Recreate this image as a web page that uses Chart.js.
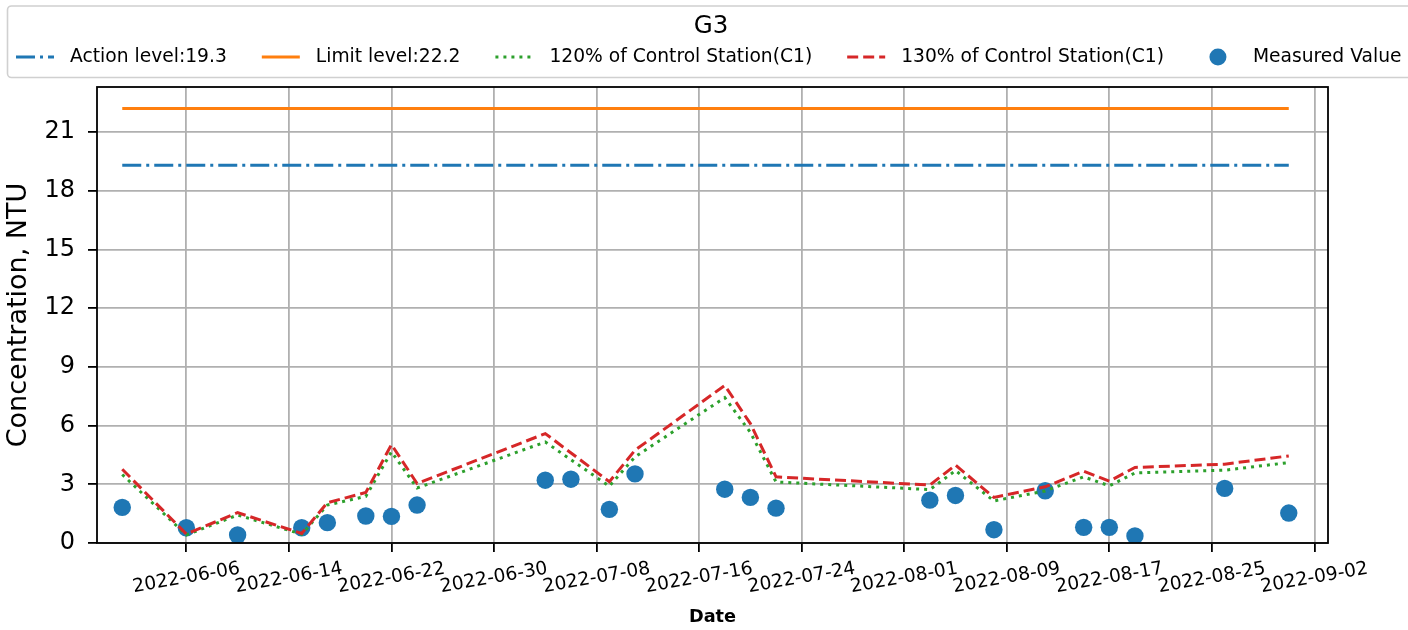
<!DOCTYPE html>
<html>
<head>
<meta charset="utf-8">
<script src="https://cdn.jsdelivr.net/npm/chart.js@4.4.1/dist/chart.umd.min.js"></script>
<style>
html, body { margin: 0; padding: 0; background: #fff; }
canvas { display: block; }
</style>
</head>
<body>
<canvas id="chart" width="1408" height="630"></canvas>
<script>
// Messwerte Station G3
const measuredDates = ['2022-06-01', '2022-06-06', '2022-06-10', '2022-06-15', '2022-06-17', '2022-06-20',
    '2022-06-22', '2022-06-24', '2022-07-04', '2022-07-06', '2022-07-09', '2022-07-11', '2022-07-18',
    '2022-07-20', '2022-07-22', '2022-08-03', '2022-08-05', '2022-08-08', '2022-08-12', '2022-08-15',
    '2022-08-17', '2022-08-19', '2022-08-26', '2022-08-31'];
const measuredValues = [1.82, 0.78, 0.41, 0.78, 1.04, 1.38, 1.36, 1.94, 3.21, 3.26, 1.72, 3.53, 2.75,
    2.33, 1.78, 2.19, 2.43, 0.68, 2.67, 0.80, 0.80, 0.36, 2.79, 1.53];

// Kontrollstation C1 (120% / 130%)
const controlDates = ['2022-06-01', '2022-06-06', '2022-06-10', '2022-06-15', '2022-06-17', '2022-06-20',
    '2022-06-22', '2022-06-24', '2022-07-04', '2022-07-09', '2022-07-11', '2022-07-18', '2022-07-20',
    '2022-07-22', '2022-08-03', '2022-08-05', '2022-08-08', '2022-08-12', '2022-08-15', '2022-08-17',
    '2022-08-19', '2022-08-26', '2022-08-31'];
const control120 = [3.50, 0.41, 1.43, 0.45, 1.94, 2.38, 4.66, 2.81, 5.16, 2.90, 4.40, 7.43, 5.65,
    3.12, 2.73, 3.70, 2.15, 2.66, 3.38, 2.92, 3.58, 3.72, 4.11];
const control130 = [3.77, 0.46, 1.55, 0.49, 2.06, 2.58, 5.03, 3.04, 5.59, 3.13, 4.74, 8.05, 6.10,
    3.38, 2.96, 3.98, 2.33, 2.87, 3.67, 3.16, 3.86, 4.03, 4.45];

const actionLevel = 19.3;
const limitLevel = 22.2;

const yTicks = [0, 3, 6, 9, 12, 15, 18, 21];
const xTickDates = ['2022-06-06', '2022-06-14', '2022-06-22', '2022-06-30', '2022-07-08', '2022-07-16',
    '2022-07-24', '2022-08-01', '2022-08-09', '2022-08-17', '2022-08-25', '2022-09-02'];

const FONT = 'DejaVu Sans';
const DAY = 86400000;
function day(s) { return Date.parse(s + 'T00:00:00Z') / DAY; }
function dateLabel(v) { return new Date(Math.round(v) * DAY).toISOString().slice(0, 10); }

const firstDay = day(measuredDates[0]);
const lastDay = day(measuredDates[measuredDates.length - 1]);

// Rahmen um die Achsen (alle vier Seiten)
const framePlugin = {
    id: 'frame',
    afterDatasetsDraw(chart) {
        const {ctx, chartArea: a} = chart;
        ctx.save();
        ctx.strokeStyle = '#000';
        ctx.lineWidth = 1.8;
        ctx.strokeRect(a.left, a.top, a.right - a.left, a.bottom - a.top);
        ctx.restore();
    }
};

// X-Beschriftung: um 10° gedreht, mittig unter dem Tick
const xLabelPlugin = {
    id: 'xLabels',
    afterDraw(chart) {
        const ctx = chart.ctx;
        const sx = chart.scales.x;
        ctx.save();
        ctx.font = '18.7px "' + FONT + '"';
        ctx.fillStyle = '#000';
        ctx.textAlign = 'center';
        ctx.textBaseline = 'middle';
        for (const t of sx.ticks) {
            ctx.save();
            ctx.translate(sx.getPixelForValue(t.value), chart.chartArea.bottom + 35);
            ctx.rotate(-10 * Math.PI / 180);
            ctx.fillText(dateLabel(t.value), 0, 0);
            ctx.restore();
        }
        ctx.restore();
    }
};

// Legende im Kasten oben, mit Titel "G3"
const legendPlugin = {
    id: 'boxLegend',
    afterDraw(chart) {
        const ctx = chart.ctx;
        ctx.save();
        ctx.fillStyle = 'rgba(255,255,255,0.8)';
        ctx.strokeStyle = '#d0d0d0';
        ctx.lineWidth = 1.6;
        ctx.beginPath();
        ctx.roundRect(7.5, 6, 1430, 71.5, 4);
        ctx.fill();
        ctx.stroke();

        ctx.fillStyle = '#000';
        ctx.textAlign = 'center';
        ctx.textBaseline = 'middle';
        ctx.font = '24.5px "' + FONT + '"';
        ctx.fillText('G3', 711, 27);

        ctx.font = '18.7px "' + FONT + '"';
        ctx.textAlign = 'left';
        const rowY = 57;
        let x = 16;
        for (const ds of chart.data.datasets) {
            ctx.save();
            if (ds.showLine === false) {
                ctx.fillStyle = ds.backgroundColor;
                ctx.beginPath();
                ctx.arc(x + 19, rowY, 8.5, 0, Math.PI * 2);
                ctx.fill();
            } else {
                ctx.strokeStyle = ds.borderColor;
                ctx.lineWidth = ds.borderWidth;
                ctx.setLineDash(ds.borderDash || []);
                ctx.beginPath();
                ctx.moveTo(x, rowY);
                ctx.lineTo(x + 38, rowY);
                ctx.stroke();
            }
            ctx.restore();
            ctx.fillText(ds.label, x + 54, rowY);
            x += 54 + ctx.measureText(ds.label).width + 35;
        }
        ctx.restore();
    }
};

function pts(dates, values) {
    return dates.map((d, i) => ({x: day(d), y: values[i]}));
}

const lineStyle = {pointRadius: 0, pointHoverRadius: 0, borderWidth: 3, fill: false, tension: 0};

new Chart(document.getElementById('chart'), {
    type: 'line',
    data: {
        datasets: [
            {...lineStyle, label: 'Action level:' + actionLevel, order: 3,
                data: [{x: firstDay, y: actionLevel}, {x: lastDay, y: actionLevel}],
                borderColor: '#1f77b4', borderDash: [19, 5, 3, 5]},
            {...lineStyle, label: 'Limit level:' + limitLevel, order: 4,
                data: [{x: firstDay, y: limitLevel}, {x: lastDay, y: limitLevel}],
                borderColor: '#ff7f0e'},
            {...lineStyle, label: '120% of Control Station(C1)', order: 2,
                data: pts(controlDates, control120),
                borderColor: '#2ca02c', borderDash: [3, 5]},
            {...lineStyle, label: '130% of Control Station(C1)', order: 1,
                data: pts(controlDates, control130),
                borderColor: '#d62728', borderDash: [11, 5]},
            {label: 'Measured Value', order: 5, showLine: false,
                data: pts(measuredDates, measuredValues),
                pointRadius: 8.7, pointHoverRadius: 8.7, pointBorderWidth: 0,
                backgroundColor: '#1f77b4', borderColor: '#1f77b4'}
        ]
    },
    options: {
        responsive: false,
        animation: false,
        devicePixelRatio: 1,
        layout: {padding: {top: 87, right: 80, left: 0, bottom: 0}},
        plugins: {
            legend: {display: false},
            tooltip: {enabled: false}
        },
        scales: {
            x: {
                type: 'linear',
                min: day('2022-06-06') - 6.97,
                max: day('2022-06-06') + 89.06,
                afterBuildTicks: s => { s.ticks = xTickDates.map(d => ({value: day(d)})); },
                afterFit: s => { s.height = 87; },
                grid: {color: '#b0b0b0', lineWidth: 1.8, tickLength: 9, tickColor: '#000', tickWidth: 1.8},
                border: {display: false},
                ticks: {display: false},
                title: {display: true, text: 'Date', color: '#000',
                    font: {family: FONT, size: 17.7, weight: 'bold'}, padding: {top: 0, bottom: 2.4}}
            },
            y: {
                min: 0,
                max: 23.3,
                afterBuildTicks: s => { s.ticks = yTicks.map(v => ({value: v})); },
                afterFit: s => { s.width = 97; },
                grid: {color: '#b0b0b0', lineWidth: 1.8, tickLength: 9, tickColor: '#000', tickWidth: 1.8},
                border: {display: false},
                ticks: {color: '#000', font: {family: FONT, size: 24}, padding: 13},
                title: {display: true, text: 'Concentration, NTU', color: '#000',
                    font: {family: FONT, size: 27}, padding: {top: 3, bottom: 0}}
            }
        }
    },
    plugins: [framePlugin, xLabelPlugin, legendPlugin]
});
</script>
</body>
</html>
